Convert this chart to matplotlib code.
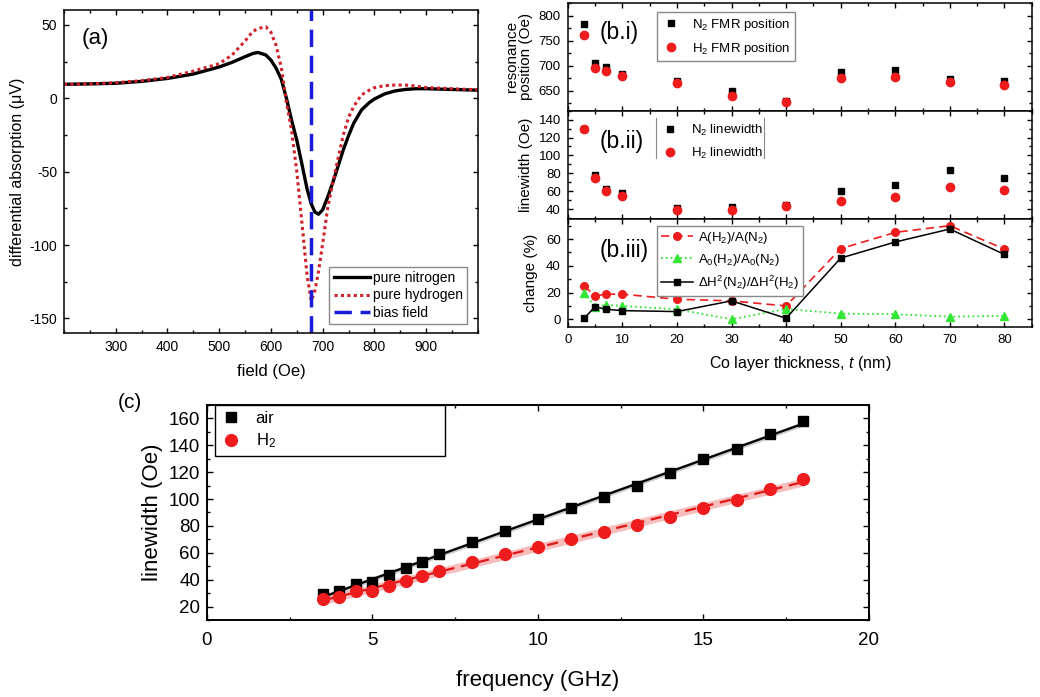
import numpy as np
import matplotlib
matplotlib.use("Agg")
import matplotlib.pyplot as plt
from matplotlib.ticker import MultipleLocator

plt.rcParams['font.family'] = ['Liberation Sans', 'DejaVu Sans']
plt.rcParams['mathtext.fontset'] = 'custom'
plt.rcParams['mathtext.rm'] = 'Liberation Sans'
plt.rcParams['mathtext.it'] = 'Liberation Sans:italic'
plt.rcParams['axes.unicode_minus'] = False

# ---- panel (a): FMR spectra ----
field_oe = [200, 250, 300, 350, 400, 450, 500, 525, 550, 565, 575, 590, 600, 610,
            620, 630, 640, 650, 660, 670, 678, 685, 692, 700, 710, 720, 730, 740,
            750, 760, 775, 790, 800, 820, 840, 860, 880, 900, 950, 1000]
nitrogen = [9.5, 9.8, 10.2, 11.5, 13.5, 16.5, 21.3, 24.5, 28.3, 30.5, 31.2, 29.5, 26, 20.5,
            13, 0, -15, -28.5, -45, -62, -72, -77.5, -79, -76, -67, -57, -46, -35,
            -25.5, -17, -8, -3, -0.5, 3, 5, 6, 6.5, 6.5, 6, 5.5]
hydrogen = [9.4, 9.8, 10.6, 12, 14.2, 18.5, 23.5, 29.5, 39, 45.5, 47.5, 48.7, 45, 36,
            21, -3, -22, -50, -85, -121, -138, -131, -118, -99, -74, -57, -40.5, -25,
            -13, -5.6, 2.3, 5.5, 7.2, 8.6, 9, 9, 8.3, 7.3, 6.5, 5.8]
bias_field = 677

# ---- panel (b): thickness series ----
thickness = [3, 5, 7, 10, 20, 30, 40, 50, 60, 70, 80]
n2_pos = [783, 705, 697, 684, 670, 650, 630, 688, 692, 674, 669]
h2_pos = [761, 695, 689, 679, 665, 640, 627, 676, 678, 668, 662]
n2_lw = [129, 78, 63, 58, 41, 42, 45, 60, 67, 84, 75]
h2_lw = [129, 74.5, 60, 55, 39, 39, 44, 49.5, 53.5, 65, 61.5]
amp_change = [25, 17.5, 18.8, 18.8, 15, 13.8, 10, 52.8, 65, 70, 52.5]
amp0_change = [19.5, 9.5, 10.8, 10, 7.5, 0, 7.8, 4.3, 3.8, 2, 2.5]
dh_change = [0.8, 9.5, 7.5, 6.5, 5.8, 13.8, 0.8, 45.8, 57.8, 67.5, 48.5]

# ---- panel (c): linewidth vs frequency ----
freq = [3.5, 4, 4.5, 5, 5.5, 6, 6.5, 7, 8, 9, 10, 11, 12, 13, 14, 15, 16, 17, 18]
air_lw = [29.4, 31.9, 36.9, 38.6, 43.5, 48.5, 53.5, 58.9, 67.8, 76.5, 84.9, 93.6,
          101.8, 110, 119.1, 129.5, 137, 148.4, 158]
hyd_lw = [25.5, 27.4, 31.2, 31.9, 35.6, 39.3, 42.8, 46.8, 53.5, 59.2, 64.1, 70.1,
          75.8, 80.7, 86.9, 93.6, 99.3, 107.2, 114.9]

RED = '#ee1c1c'


def style_ax(ax, size, major=3.5, minor=2.0, width=1.0, pad=4.5):
    ax.tick_params(which='both', direction='in', top=True, right=True,
                   labelsize=size, width=width, pad=pad)
    ax.tick_params(which='major', length=major)
    ax.tick_params(which='minor', length=minor)
    for s in ax.spines.values():
        s.set_linewidth(1.1)


fig = plt.figure(figsize=(10.4, 6.97), dpi=100)

# (a)
ax_a = fig.add_axes([0.0615, 0.522, 0.398, 0.4634])
ax_a.plot(field_oe, nitrogen, color='black', lw=2.4, label='pure nitrogen')
ax_a.plot(field_oe, hydrogen, color='#d0202a', lw=2.2, ls=(0, (1, 1.1)), label='pure hydrogen')
ax_a.axvline(bias_field, color='#1a1adb', lw=2.5, ls=(0, (5, 2.5)), label='bias field')
ax_a.set_xlim(200, 1000)
ax_a.set_ylim(-160, 60)
ax_a.set_xticks([300, 400, 500, 600, 700, 800, 900])
ax_a.xaxis.set_minor_locator(MultipleLocator(50))
ax_a.yaxis.set_major_locator(MultipleLocator(50))
ax_a.yaxis.set_minor_locator(MultipleLocator(25))
style_ax(ax_a, 10, pad=5)
ax_a.set_xlabel('field (Oe)', fontsize=12, labelpad=7)
ax_a.set_ylabel('differential absorption (μV)', fontsize=11.5, labelpad=3)
ax_a.text(0.043, 0.913, '(a)', transform=ax_a.transAxes, fontsize=16, va='center')
ax_a.legend(loc='lower right', bbox_to_anchor=(0.973, 0.028), borderaxespad=0,
            fontsize=10, handlelength=2.6, fancybox=False, framealpha=1,
            edgecolor='#888888', borderpad=0.3, labelspacing=0.25, handletextpad=0.2)

# (b)
bl, bw = 0.546, 0.446
ax_b1 = fig.add_axes([bl, 0.8412, bw, 0.1545])
ax_b2 = fig.add_axes([bl, 0.6858, bw, 0.1554], sharex=ax_b1)
ax_b3 = fig.add_axes([bl, 0.5313, bw, 0.1545], sharex=ax_b1)

ax_b1.plot(thickness, n2_pos, 's', color='black', ms=5, label='N$_2$ FMR position')
ax_b1.plot(thickness, h2_pos, 'o', color=RED, ms=6, label='H$_2$ FMR position')
ax_b1.set_ylim(610, 825)
ax_b1.yaxis.set_major_locator(MultipleLocator(50))
ax_b1.yaxis.set_minor_locator(MultipleLocator(25))
ax_b1.set_ylabel('resonance\nposition (Oe)', fontsize=11, labelpad=4, linespacing=1.0)
ax_b1.text(0.069, 0.73, '(b.i)', transform=ax_b1.transAxes, fontsize=16.5, va='center')
ax_b1.legend(loc='upper left', bbox_to_anchor=(0.192, 0.916), borderaxespad=0,
             fontsize=9.5, fancybox=False, framealpha=1, edgecolor='#888888',
             handletextpad=0.8, labelspacing=0.6, borderpad=0.35, handlelength=1.5)

ax_b2.plot(thickness, n2_lw, 's', color='black', ms=5, label='N$_2$ linewidth')
ax_b2.plot(thickness, h2_lw, 'o', color=RED, ms=6, label='H$_2$ linewidth')
ax_b2.set_ylim(29, 150)
ax_b2.yaxis.set_major_locator(MultipleLocator(20))
ax_b2.yaxis.set_minor_locator(MultipleLocator(10))
ax_b2.set_ylabel('linewidth (Oe)', fontsize=11, labelpad=4)
ax_b2.text(0.069, 0.72, '(b.ii)', transform=ax_b2.transAxes, fontsize=16.5, va='center')
ax_b2.legend(loc='upper left', bbox_to_anchor=(0.19, 0.933), borderaxespad=0,
             fontsize=9.5, frameon=False, handletextpad=0.8, labelspacing=0.6,
             borderpad=0.35, handlelength=1.5)
for xa in (0.19, 0.423):
    ax_b2.plot([xa, xa], [0.56, 0.933], transform=ax_b2.transAxes, color='#888888', lw=0.8)

ax_b3.plot(thickness, amp_change, '--o', color=RED, ms=5.5, lw=1.2, dashes=(5, 3),
           label='A(H$_2$)/A(N$_2$)')
ax_b3.plot(thickness, amp0_change, ':^', color='#33e633', ms=6, lw=1.3,
           label='A$_0$(H$_2$)/A$_0$(N$_2$)')
ax_b3.plot(thickness, dh_change, '-s', color='black', ms=5, lw=1.1,
           label='ΔH$^2$(N$_2$)/ΔH$^2$(H$_2$)')
ax_b3.set_xlim(0, 85)
ax_b3.set_ylim(-5.5, 75)
ax_b3.yaxis.set_major_locator(MultipleLocator(20))
ax_b3.yaxis.set_minor_locator(MultipleLocator(10))
ax_b3.xaxis.set_major_locator(MultipleLocator(10))
ax_b3.xaxis.set_minor_locator(MultipleLocator(5))
ax_b3.set_ylabel('change (%)', fontsize=11, labelpad=6)
ax_b3.set_xlabel('Co layer thickness, $t$ (nm)', fontsize=11.5, labelpad=6)
ax_b3.text(0.069, 0.712, '(b.iii)', transform=ax_b3.transAxes, fontsize=16.5, va='center')
ax_b3.legend(loc='upper left', bbox_to_anchor=(0.192, 0.935), borderaxespad=0,
             fontsize=9.5, fancybox=False, framealpha=1, edgecolor='#888888',
             handlelength=2.4, handletextpad=0.4, labelspacing=0.45, borderpad=0.3)

for ax in (ax_b1, ax_b2, ax_b3):
    style_ax(ax, 9.5, pad=5)
for ax in (ax_b1, ax_b2):
    ax.tick_params(labelbottom=False)

# (c)
ax_c = fig.add_axes([0.199, 0.1105, 0.6365, 0.3085])
f_arr = np.array(freq)
f_line = np.array([f_arr.min(), f_arr.max()])
k_air = np.polyfit(f_arr, air_lw, 1)
k_hyd = np.polyfit(f_arr, hyd_lw, 1)
air_fit = np.polyval(k_air, f_line)
hyd_fit = np.polyval(k_hyd, f_line)
ax_c.fill_between(f_line, air_fit - 1.8, air_fit + 1.8, color='#aaaaaa', alpha=0.6, lw=0)
ax_c.fill_between(f_line, hyd_fit - 3.0, hyd_fit + 3.0, color='#f4a0a0', alpha=0.7, lw=0)
ax_c.plot(f_line, air_fit, '-', color='black', lw=1.6)
ax_c.plot(f_line, hyd_fit, '--', color='#e01515', lw=1.6, dashes=(5, 3))
ax_c.plot(freq, air_lw, 's', color='black', ms=7.5, label='air')
ax_c.plot(freq, hyd_lw, 'o', color=RED, ms=8.5, label='H$_2$')
ax_c.set_xlim(0, 20)
ax_c.set_ylim(10, 170)
ax_c.xaxis.set_major_locator(MultipleLocator(5))
ax_c.xaxis.set_minor_locator(MultipleLocator(2.5))
ax_c.yaxis.set_major_locator(MultipleLocator(20))
ax_c.yaxis.set_minor_locator(MultipleLocator(10))
style_ax(ax_c, 13.5, major=4.5, minor=2.5)
ax_c.tick_params(axis='x', pad=9)
ax_c.tick_params(axis='y', pad=5)
for s in ax_c.spines.values():
    s.set_linewidth(1.4)
ax_c.set_xlabel('frequency (GHz)', fontsize=16, labelpad=15)
ax_c.set_ylabel('linewidth (Oe)', fontsize=16, labelpad=4)
ax_c.legend(loc='upper left', bbox_to_anchor=(0.012, 0.772, 0.347, 0.228), mode='expand',
            borderaxespad=0, fontsize=12, fancybox=False, framealpha=1, edgecolor='black',
            handletextpad=0.9, labelspacing=0.35, handlelength=1.2, borderpad=0.35)
fig.text(0.113, 0.423, '(c)', fontsize=15, va='center')

fig.savefig('out.png', dpi=100)
